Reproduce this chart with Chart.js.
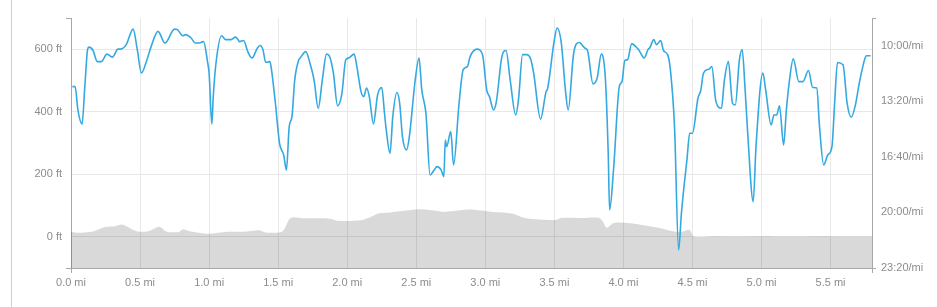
<!DOCTYPE html>
<html>
<head>
<meta charset="utf-8">
<script src="https://cdn.jsdelivr.net/npm/chart.js@4/dist/chart.umd.min.js"></script>
<style>
  body { margin: 0; background: #fff; }
  #wrap { position: relative; width: 937px; height: 307px; }
  #edge { position: absolute; left: 11px; top: 0; width: 1px; height: 307px; background: #cfcfcf; }
  canvas { position: absolute; left: 0; top: 0; }
</style>
</head>
<body>
<div id="wrap">
  <div id="edge"></div>
  <canvas id="runChart" width="937" height="307"></canvas>
</div>
<script>
// elevation profile (miles, feet)
var elevMiles = [0.00, 0.04, 0.16, 0.245, 0.32, 0.37, 0.48, 0.56, 0.64, 0.69, 0.78, 0.81, 0.86, 0.99, 1.13, 1.25, 1.36, 1.41, 1.53, 1.59, 1.68, 1.88, 1.93, 2.10, 2.17, 2.23, 2.31, 2.41, 2.51, 2.60, 2.71, 2.87, 2.97, 3.06, 3.20, 3.28, 3.40, 3.51, 3.55, 3.69, 3.82, 3.85, 3.88, 3.93, 4.03, 4.13, 4.25, 4.37, 4.42, 4.48, 4.51, 4.66, 4.80, 5.00, 5.20, 5.45, 5.60, 5.80];
var elevFeet = [17, 13, 17, 31, 34, 39, 17, 18, 32, 17, 15, 24, 18, 10, 16, 16, 21, 14, 17, 60, 59, 58, 51, 53, 63, 75, 78, 83, 88, 86, 80, 87, 84, 79, 74, 61, 55, 54, 60, 60, 61, 50, 29, 44, 44, 38, 29, 17, 15, 22, 1, 2, 1, 2, 1, 2, 1, 1];

// pace (miles, seconds per mile)
var paceMiles = [0.01, 0.03, 0.05, 0.08, 0.10, 0.12, 0.13, 0.16, 0.19, 0.22, 0.26, 0.30, 0.34, 0.36, 0.40, 0.45, 0.48, 0.51, 0.55, 0.58, 0.63, 0.68, 0.75, 0.77, 0.81, 0.83, 0.87, 0.90, 0.93, 0.96, 0.99, 1.00, 1.02, 1.03, 1.05, 1.09, 1.12, 1.16, 1.19, 1.21,
  1.22, 1.25, 1.28, 1.31, 1.35, 1.37, 1.39, 1.41, 1.44, 1.45, 1.48, 1.51, 1.54, 1.56, 1.58, 1.60, 1.62, 1.65, 1.66, 1.70, 1.73, 1.76, 1.79, 1.82, 1.85, 1.87, 1.90, 1.93, 1.96, 1.99,
  2.01, 2.05, 2.07, 2.10, 2.12, 2.14, 2.16, 2.19, 2.22, 2.25, 2.27, 2.28, 2.31, 2.33, 2.36, 2.38, 2.40, 2.43, 2.45, 2.49, 2.52, 2.54, 2.57, 2.60, 2.63, 2.65, 2.68, 2.70, 2.71, 2.72, 2.75, 2.77, 2.81, 2.84, 2.87, 2.89, 2.94, 2.98,
  3.01, 3.03, 3.06, 3.08, 3.12, 3.15, 3.18, 3.22, 3.24, 3.27, 3.30, 3.33, 3.35, 3.40, 3.44, 3.45, 3.50, 3.52, 3.55, 3.58, 3.60, 3.64, 3.68, 3.72, 3.74, 3.78, 3.81, 3.84, 3.87, 3.89, 3.90, 3.93, 3.97, 3.99,
  4.01, 4.03, 4.06, 4.11, 4.15, 4.18, 4.19, 4.22, 4.24, 4.27, 4.29, 4.32, 4.34, 4.37, 4.40, 4.42, 4.44, 4.46, 4.48, 4.50, 4.54, 4.56, 4.58, 4.62, 4.64, 4.67, 4.71, 4.73, 4.76, 4.79, 4.81, 4.84, 4.86, 4.88, 4.90, 4.94, 4.96,
  5.01, 5.03, 5.07, 5.09, 5.11, 5.13, 5.16, 5.18, 5.20, 5.23, 5.27, 5.30, 5.34, 5.37, 5.40, 5.42, 5.45, 5.48, 5.51, 5.53, 5.55, 5.59, 5.62, 5.65, 5.68, 5.71, 5.75, 5.76, 5.79];
var paceSecs = [747, 747, 831, 882, 747, 614, 605, 617, 657, 657, 630, 641, 612, 612, 596, 540, 614, 698, 650, 603, 548, 590, 540, 542, 564, 560, 572, 590, 590, 585, 662, 698, 882, 783, 662, 564, 578, 578, 569, 578,
  585, 581, 621, 644, 608, 599, 614, 660, 657, 680, 807, 951, 993, 1047, 891, 855, 723, 650, 644, 621, 662, 723, 825, 723, 630, 636, 698, 816, 777, 650,
  644, 630, 675, 765, 783, 752, 783, 881, 777, 750, 843, 891, 987, 855, 768, 807, 927, 975, 927, 734, 644, 759, 843, 1065, 1047, 1035, 1047, 1071, 939, 963, 909, 1029, 807, 686, 675, 639, 612, 632,
  759, 783, 831, 801, 639, 617, 723, 849, 795, 632, 632, 650, 698, 864, 765, 756, 578, 536, 589, 759, 831, 626, 588, 608, 617, 737, 716, 630, 723, 987, 1191, 1035, 747, 729,
  653, 650, 593, 614, 644, 612, 608, 578, 596, 581, 617, 632, 686, 891, 1335, 1203, 1101, 1011, 915, 915, 788, 761, 698, 684, 675, 801, 825, 729, 657, 807, 813, 650, 614, 747, 915, 1161, 963,
  698, 759, 885, 849, 849, 816, 957, 831, 734, 647, 729, 729, 689, 750, 752, 891, 1029, 993, 963, 801, 660, 668, 807, 857, 813, 729, 644, 636, 636];

// axis ticks
var mileTicks = [0, 0.5, 1.0, 1.5, 2.0, 2.5, 3.0, 3.5, 4.0, 4.5, 5.0, 5.5, 5.8];
var feetTicks = [-100, 0, 200, 400, 600, 700];
var paceTicks = [500, 600, 800, 1000, 1200, 1400];

var gridGray = '#e8e8e8';
var axisGray = '#a8a8a8';
var labelGray = '#8c8c8c';

function isEdge(ctx, list) {
  var v = ctx.tick ? ctx.tick.value : null;
  return v === list[0] || v === list[list.length - 1];
}

function fmtPace(s) {
  var m = Math.floor(s / 60);
  var sec = Math.round(s - m * 60);
  return m + ':' + (sec < 10 ? '0' : '') + sec + '/mi';
}

Chart.defaults.font.family = "'Liberation Sans', Arial, sans-serif";
Chart.defaults.font.size = 11;
Chart.defaults.color = labelGray;

var paceData = paceMiles.map(function (m, i) { return { x: m, y: paceSecs[i] }; });
var elevData = elevMiles.map(function (m, i) { return { x: m, y: elevFeet[i] }; });

new Chart(document.getElementById('runChart'), {
  type: 'line',
  data: {
    datasets: [
      {
        label: 'Pace',
        data: paceData,
        yAxisID: 'pace',
        borderColor: '#34a9e1',
        borderWidth: 1.6,
        pointRadius: 0,
        fill: false,
        cubicInterpolationMode: 'monotone'
      },
      {
        label: 'Elevation',
        data: elevData,
        yAxisID: 'elev',
        borderWidth: 0,
        borderColor: 'rgba(0,0,0,0)',
        backgroundColor: 'rgba(0,0,0,0.15)',
        pointRadius: 0,
        fill: 'start',
        tension: 0.3
      }
    ]
  },
  options: {
    responsive: false,
    animation: false,
    layout: { padding: { top: 18, left: 0, right: 0, bottom: 0 } },
    plugins: { legend: { display: false }, tooltip: { enabled: false } },
    scales: {
      x: {
        type: 'linear',
        min: 0,
        max: 5.8,
        afterBuildTicks: function (s) { s.ticks = mileTicks.map(function (v) { return { value: v }; }); },
        afterFit: function (s) { s.height = 39; },
        border: { color: axisGray },
        grid: {
          color: function (c) { return isEdge(c, mileTicks) ? 'rgba(0,0,0,0)' : gridGray; },
          tickColor: function (c) { return isEdge(c, mileTicks) ? axisGray : 'rgba(0,0,0,0)'; },
          tickLength: 5
        },
        ticks: {
          padding: 3,
          maxRotation: 0,
          autoSkip: false,
          callback: function (v) { return v === 5.8 ? '' : v.toFixed(1) + ' mi'; }
        }
      },
      elev: {
        type: 'linear',
        position: 'left',
        min: -100,
        max: 700,
        afterBuildTicks: function (s) { s.ticks = feetTicks.map(function (v) { return { value: v }; }); },
        afterFit: function (s) { s.width = 71; },
        border: { color: axisGray },
        grid: {
          color: function (c) { return isEdge(c, feetTicks) ? 'rgba(0,0,0,0)' : gridGray; },
          tickColor: function (c) { return isEdge(c, feetTicks) ? axisGray : 'rgba(0,0,0,0)'; },
          tickLength: 5
        },
        ticks: {
          padding: 4,
          callback: function (v) { return (v === -100 || v === 700) ? '' : v + ' ft'; }
        }
      },
      pace: {
        type: 'linear',
        position: 'right',
        reverse: true,
        min: 500,
        max: 1400,
        afterBuildTicks: function (s) { s.ticks = paceTicks.map(function (v) { return { value: v }; }); },
        afterFit: function (s) { s.width = 65; },
        border: { color: axisGray },
        grid: {
          drawOnChartArea: false,
          tickColor: function (c) { return isEdge(c, paceTicks) ? axisGray : 'rgba(0,0,0,0)'; },
          tickLength: 4
        },
        ticks: {
          padding: 5,
          callback: function (v) { return v === 500 ? '' : fmtPace(v); }
        }
      }
    }
  }
});
</script>
</body>
</html>
